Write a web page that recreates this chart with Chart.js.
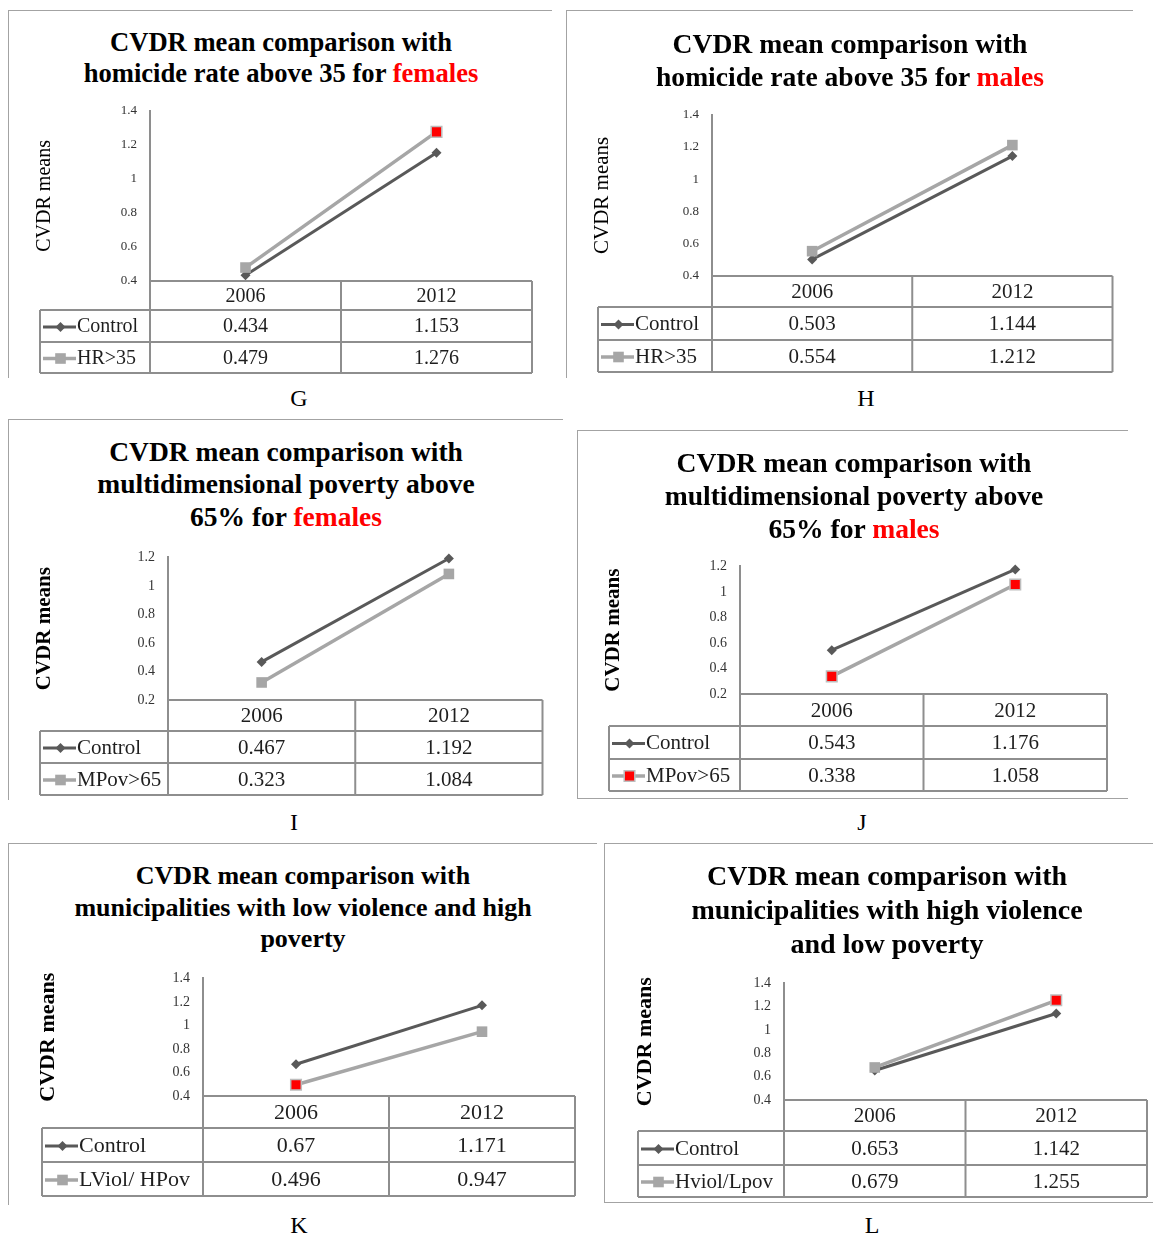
<!DOCTYPE html>
<html>
<head>
<meta charset="utf-8">
<script src="https://cdn.jsdelivr.net/npm/chart.js@4.4.1/dist/chart.umd.min.js"></script>
<style>
  html, body { margin: 0; padding: 0; background: #ffffff; }
  body { width: 1154px; height: 1235px; position: relative; overflow: hidden; font-family: "Liberation Serif", "Times New Roman", serif; }
  .frame { position: absolute; border: 0 solid #a3a3a3; box-sizing: border-box; }
  .title { position: absolute; width: 640px; text-align: center; font-weight: bold; color: #000; white-space: nowrap; }
  .title .hl { color: #ff0000; }
  .letter { position: absolute; font-size: 24px; color: #000; transform: translate(-50%, -50%); line-height: 1; }
  canvas { position: absolute; }
</style>
</head>
<body>
<script>
const FONT = '"Liberation Serif", "Times New Roman", serif';

// Categories and series values (CVDR means)
const years = ['2006', '2012'];

const controlHomFemales = [0.434, 1.153];
const hr35Females       = [0.479, 1.276];

const controlHomMales   = [0.503, 1.144];
const hr35Males         = [0.554, 1.212];

const controlPovFemales = [0.467, 1.192];
const mpov65Females     = [0.323, 1.084];

const controlPovMales   = [0.543, 1.176];
const mpov65Males       = [0.338, 1.058];

const controlLowViol    = [0.67, 1.171];
const lviolHpov         = [0.496, 0.947];

const controlHighViol   = [0.653, 1.142];
const hviolLpov         = [0.679, 1.255];

// Y tick labels
const ticksFrom04 = [0.4, 0.6, 0.8, 1, 1.2, 1.4];
const ticksFrom02 = [0.2, 0.4, 0.6, 0.8, 1, 1.2];

const panels = [
  {
    letter: 'G', letterPos: [299, 398],
    title: 'CVDR mean comparison with<br>homicide rate above 35 for <span class="hl">females</span>',
    titleBox: { cx: 281, y1: 42, lh: 31, size: 26.6 },
    series: ['Control', 'HR>35'], values: [controlHomFemales, hr35Females], ticks: ticksFrom04,
    red: [false, true], legendRed: false,
    frame: { x1: 8, y1: 10, x2: 552, y2: 378, sides: 'tl' },
    yTitle: { cx: 45, size: 20, bold: false }, tickSize: 13,
    axisX: 150, yTop: 110, yBottom: 281, right: 535, labelLeft: 40, rows: [310, 342, 373], tableSize: 20
  },
  {
    letter: 'H', letterPos: [866, 398],
    title: 'CVDR mean comparison with<br>homicide rate above 35 for <span class="hl">males</span>',
    titleBox: { cx: 850, y1: 43, lh: 33, size: 27.6 },
    series: ['Control', 'HR>35'], values: [controlHomMales, hr35Males], ticks: ticksFrom04,
    red: [false, false], legendRed: false,
    frame: { x1: 566, y1: 10, x2: 1133, y2: 378, sides: 'tl' },
    yTitle: { cx: 602, size: 21, bold: false }, tickSize: 13,
    axisX: 712, yTop: 114, yBottom: 276, right: 1114, labelLeft: 598, rows: [307, 340, 372], tableSize: 21
  },
  {
    letter: 'I', letterPos: [294, 822],
    title: 'CVDR mean comparison with<br>multidimensional poverty above<br>65% for <span class="hl">females</span>',
    titleBox: { cx: 286, y1: 452, lh: 32.5, size: 27.5 },
    series: ['Control', 'MPov>65'], values: [controlPovFemales, mpov65Females], ticks: ticksFrom02,
    red: [false, false], legendRed: false,
    frame: { x1: 8, y1: 419, x2: 563, y2: 800, sides: 'tl' },
    yTitle: { cx: 45, size: 21, bold: true }, tickSize: 14,
    axisX: 168, yTop: 556, yBottom: 700, right: 544, labelLeft: 40, rows: [731, 763, 795], tableSize: 21
  },
  {
    letter: 'J', letterPos: [862, 822],
    title: 'CVDR mean comparison with<br>multidimensional poverty above<br>65% for <span class="hl">males</span>',
    titleBox: { cx: 854, y1: 462, lh: 33, size: 27.6 },
    series: ['Control', 'MPov>65'], values: [controlPovMales, mpov65Males], ticks: ticksFrom02,
    red: [true, true], legendRed: true,
    frame: { x1: 577, y1: 430, x2: 1128, y2: 799, sides: 'tlb' },
    yTitle: { cx: 614, size: 21, bold: true }, tickSize: 14,
    axisX: 740, yTop: 565, yBottom: 694, right: 1110, labelLeft: 609, rows: [726, 759, 791], tableSize: 21
  },
  {
    letter: 'K', letterPos: [299, 1225],
    title: 'CVDR mean comparison with<br>municipalities with low violence and high<br>poverty',
    titleBox: { cx: 303, y1: 876, lh: 31.5, size: 26 },
    series: ['Control', 'LViol/ HPov'], values: [controlLowViol, lviolHpov], ticks: ticksFrom04,
    red: [true, false], legendRed: false,
    frame: { x1: 8, y1: 843, x2: 597, y2: 1205, sides: 'tl' },
    yTitle: { cx: 48, size: 22, bold: true }, tickSize: 14,
    axisX: 203, yTop: 977, yBottom: 1096, right: 578, labelLeft: 42, rows: [1128, 1162, 1196], tableSize: 22
  },
  {
    letter: 'L', letterPos: [872, 1225],
    title: 'CVDR mean comparison with<br>municipalities with high violence<br>and low poverty',
    titleBox: { cx: 887, y1: 876, lh: 34, size: 28 },
    series: ['Control', 'Hviol/Lpov'], values: [controlHighViol, hviolLpov], ticks: ticksFrom04,
    red: [false, true], legendRed: false,
    frame: { x1: 604, y1: 843, x2: 1153, y2: 1203, sides: 'tlb' },
    yTitle: { cx: 645, size: 22, bold: true }, tickSize: 14,
    axisX: 784, yTop: 982, yBottom: 1100, right: 1150, labelLeft: 638, rows: [1131, 1165, 1197], tableSize: 21
  }
];

const DARK = '#595959';
const LIGHT = '#a6a6a6';
const RED = '#ff0000';
const GRID = '#8e8e8e';
const TEXT = '#1e1e1e';

// Data table drawn under the plot, columns taken from the category scale
const dataTable = {
  id: 'dataTable',
  afterDraw(chart, args, opts) {
    const { ctx, chartArea } = chart;
    const xs = chart.scales.x;
    const c0 = xs.getPixelForValue(0);
    const c1 = xs.getPixelForValue(1);
    const mid = (c0 + c1) / 2;
    const left = chartArea.left, right = chartArea.right, top = chartArea.bottom;
    const ll = opts.labelLeft;
    const [r0, r1, r2] = opts.rows;

    ctx.save();
    ctx.strokeStyle = GRID;
    ctx.lineWidth = 2;
    ctx.beginPath();
    ctx.moveTo(left, top); ctx.lineTo(right, top);
    [r0, r1, r2].forEach(y => { ctx.moveTo(ll, y); ctx.lineTo(right, y); });
    ctx.moveTo(ll, r0); ctx.lineTo(ll, r2);
    [left, mid, right].forEach(x => { ctx.moveTo(x, top); ctx.lineTo(x, r2); });
    ctx.stroke();

    ctx.font = opts.size + 'px ' + FONT;
    ctx.fillStyle = TEXT;
    ctx.textBaseline = 'middle';
    ctx.textAlign = 'center';
    chart.data.labels.forEach((lab, i) => {
      ctx.fillText(lab, xs.getPixelForValue(i), (top + r0) / 2 + 1);
    });

    const rowMids = [(r0 + r1) / 2 + 1, (r1 + r2) / 2 + 1];
    chart.data.datasets.forEach((ds, di) => {
      const cy = rowMids[di];
      ctx.textAlign = 'center';
      ctx.fillStyle = TEXT;
      ds.data.forEach((v, i) => ctx.fillText(String(v), xs.getPixelForValue(i), cy));

      // legend key: line segment with marker
      const lx0 = ll + 3, lx1 = ll + 36;
      ctx.strokeStyle = ds.borderColor;
      ctx.lineWidth = ds.borderWidth;
      ctx.beginPath(); ctx.moveTo(lx0, cy); ctx.lineTo(lx1, cy); ctx.stroke();
      const isRed = di === 1 && opts.legendRed;
      ctx.fillStyle = isRed ? RED : ds.borderColor;
      ctx.strokeStyle = isRed ? '#bdbdbd' : ds.borderColor;
      ctx.lineWidth = isRed ? 1.5 : 0;
      Chart.helpers.drawPoint(ctx, {
        pointStyle: ds.pointStyle, rotation: 0,
        radius: ds.pointRadius, borderWidth: isRed ? 1.5 : 0
      }, (lx0 + lx1) / 2 + 1, cy);

      ctx.fillStyle = TEXT;
      ctx.textAlign = 'left';
      ctx.fillText(ds.label, lx1 + 1, cy);
    });
    ctx.restore();
  }
};

panels.forEach(p => {
  // panel frame
  const f = document.createElement('div');
  f.className = 'frame';
  Object.assign(f.style, {
    left: p.frame.x1 + 'px', top: p.frame.y1 + 'px',
    width: (p.frame.x2 - p.frame.x1) + 'px', height: (p.frame.y2 - p.frame.y1) + 'px',
    borderTopWidth: p.frame.sides.includes('t') ? '1.5px' : '0',
    borderLeftWidth: p.frame.sides.includes('l') ? '1.5px' : '0',
    borderBottomWidth: p.frame.sides.includes('b') ? '1.5px' : '0'
  });
  document.body.appendChild(f);

  // title with highlighted word
  const t = document.createElement('div');
  t.className = 'title';
  t.innerHTML = p.title;
  Object.assign(t.style, {
    left: (p.titleBox.cx - 320) + 'px', top: (p.titleBox.y1 - p.titleBox.lh / 2) + 'px',
    fontSize: p.titleBox.size + 'px', lineHeight: p.titleBox.lh + 'px'
  });
  document.body.appendChild(t);

  // panel letter
  const l = document.createElement('div');
  l.className = 'letter';
  l.textContent = p.letter;
  l.style.left = p.letterPos[0] + 'px';
  l.style.top = p.letterPos[1] + 'px';
  document.body.appendChild(l);

  // canvas box
  const cl = p.frame.x1 + 3;
  const ct = p.yTop - 20;
  const cw = p.right + 6 - cl;
  const ch = p.rows[2] + 6 - ct;
  const cv = document.createElement('canvas');
  cv.width = cw; cv.height = ch;
  cv.style.left = cl + 'px'; cv.style.top = ct + 'px';
  cv.style.width = cw + 'px'; cv.style.height = ch + 'px';
  document.body.appendChild(cv);

  const titleLH = p.yTitle.size * 1.2;
  const axisW = p.axisX - (p.yTitle.cx - titleLH / 2);
  const padLeft = (p.axisX - axisW) - cl;

  new Chart(cv, {
    type: 'line',
    data: {
      labels: years,
      datasets: [
        {
          label: p.series[0], data: p.values[0],
          borderColor: DARK, borderWidth: 3,
          pointStyle: 'rectRot', pointRadius: 5,
          pointBackgroundColor: DARK, pointBorderColor: DARK, pointBorderWidth: 0,
          order: 2, clip: false
        },
        {
          label: p.series[1], data: p.values[1],
          borderColor: LIGHT, borderWidth: 3.5,
          pointStyle: 'rect', pointRadius: 7.5,
          pointBackgroundColor: p.red.map(r => r ? RED : LIGHT),
          pointBorderColor: p.red.map(r => r ? '#bdbdbd' : LIGHT),
          pointBorderWidth: p.red.map(r => r ? 1.5 : 0),
          order: 1, clip: false
        }
      ]
    },
    options: {
      responsive: false,
      animation: false,
      devicePixelRatio: 1,
      events: [],
      layout: {
        padding: {
          left: padLeft,
          top: p.yTop - ct,
          right: (cl + cw) - p.right,
          bottom: (ct + ch) - p.yBottom
        }
      },
      plugins: {
        legend: { display: false },
        tooltip: { enabled: false },
        title: { display: false },
        dataTable: { labelLeft: p.labelLeft - cl, rows: p.rows.map(r => r - ct), size: p.tableSize, legendRed: p.legendRed }
      },
      scales: {
        x: { type: 'category', offset: true, display: false },
        y: {
          min: p.ticks[0], max: p.ticks[p.ticks.length - 1],
          afterBuildTicks: scale => { scale.ticks = p.ticks.map(v => ({ value: v })); },
          ticks: {
            padding: 13, color: '#333333',
            font: { family: FONT, size: p.tickSize },
            callback: v => String(v)
          },
          grid: { display: false, drawTicks: false },
          border: { display: true, color: GRID, width: 2 },
          title: {
            display: true, text: 'CVDR means', color: '#000', padding: 0,
            font: { family: FONT, size: p.yTitle.size, weight: p.yTitle.bold ? 'bold' : 'normal', lineHeight: 1.2 }
          },
          afterFit: scale => { scale.width = axisW; }
        }
      }
    },
    plugins: [dataTable]
  });
});
</script>
</body>
</html>
